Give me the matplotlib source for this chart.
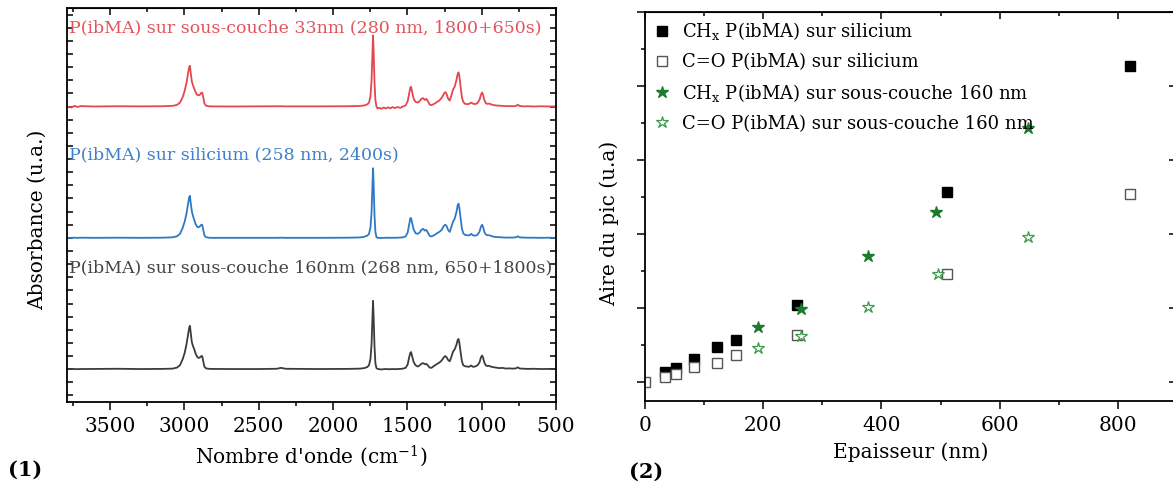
import matplotlib
matplotlib.use("Agg")
import matplotlib.pyplot as plt
from matplotlib.ticker import MultipleLocator, NullFormatter

plt.rcParams['font.family'] = ['DejaVu Serif']
plt.rcParams['mathtext.fontset'] = 'dejavuserif'

# ---- (1) FTIR spectra, absorbance above each baseline (a.u.) ----
wavenumber = [3790, 3760, 3740, 3720, 3700, 3600, 3450, 3300, 3150, 3080,
              3050, 3030, 3012, 2998, 2986, 2976, 2968, 2963, 2957, 2950,
              2942, 2935, 2925, 2915, 2905, 2895, 2886, 2880, 2873, 2866,
              2855, 2830, 2700, 2500, 2380, 2350, 2320, 2100, 1900, 1820,
              1790, 1770, 1758, 1748, 1741, 1735, 1731, 1727, 1721, 1715,
              1708, 1700, 1690, 1675, 1660, 1645, 1630, 1615, 1600, 1585,
              1565, 1548, 1530, 1512, 1498, 1488, 1480, 1475, 1468, 1458,
              1445, 1430, 1418, 1405, 1393, 1383, 1372, 1362, 1350, 1338,
              1320, 1300, 1285, 1270, 1255, 1245, 1236, 1226, 1215, 1205,
              1192, 1182, 1170, 1162, 1156, 1150, 1142, 1133, 1124, 1112,
              1098, 1085, 1070, 1060, 1045, 1030, 1015, 1005, 997, 990,
              982, 972, 962, 952, 940, 925, 905, 880, 860, 840,
              815, 790, 770, 757, 745, 720, 690, 650, 600, 550, 500]

abs_souscouche33 = [0.000, -0.008, 0.005, -0.004, 0.003, 0.000, 0.002, 0.001, 0.002, 0.005,
                    0.012, 0.030, 0.070, 0.120, 0.180, 0.250, 0.300, 0.310, 0.250, 0.190,
                    0.160, 0.140, 0.110, 0.090, 0.085, 0.090, 0.105, 0.105, 0.070, 0.025,
                    0.006, 0.001, 0.000, 0.001, 0.001, 0.002, 0.001, 0.001, 0.002, 0.004,
                    0.008, 0.016, 0.030, 0.080, 0.200, 0.420, 0.540, 0.420, 0.180, 0.050,
                    0.000, -0.015, -0.010, -0.018, -0.008, -0.015, -0.006, -0.014, -0.004, -0.012,
                    -0.004, -0.010, 0.000, 0.008, 0.040, 0.100, 0.145, 0.150, 0.110, 0.060,
                    0.035, 0.030, 0.040, 0.060, 0.063, 0.050, 0.058, 0.040, 0.015, 0.010,
                    0.020, 0.035, 0.045, 0.065, 0.095, 0.110, 0.095, 0.060, 0.045, 0.080,
                    0.130, 0.150, 0.200, 0.245, 0.260, 0.230, 0.150, 0.070, 0.035, 0.020,
                    0.018, 0.020, 0.030, 0.022, 0.018, 0.025, 0.050, 0.090, 0.107, 0.085,
                    0.050, 0.025, 0.020, 0.022, 0.018, 0.012, 0.008, 0.006, 0.004, 0.003,
                    0.003, 0.002, 0.004, 0.014, 0.004, 0.001, 0.002, 0.000, 0.002, 0.000, 0.001]

abs_silicium = [0.000, 0.000, 0.001, 0.000, 0.001, 0.000, 0.001, 0.000, 0.001, 0.004,
                0.012, 0.030, 0.075, 0.125, 0.185, 0.255, 0.310, 0.320, 0.260, 0.200,
                0.165, 0.140, 0.105, 0.085, 0.080, 0.088, 0.100, 0.098, 0.060, 0.020,
                0.005, 0.000, 0.000, 0.000, 0.000, 0.001, 0.000, 0.000, 0.001, 0.003,
                0.008, 0.016, 0.030, 0.080, 0.195, 0.410, 0.530, 0.410, 0.170, 0.045,
                0.005, 0.000, 0.000, -0.002, 0.000, 0.000, 0.001, 0.000, 0.001, 0.000,
                0.001, 0.002, 0.004, 0.010, 0.040, 0.100, 0.150, 0.150, 0.115, 0.065,
                0.035, 0.030, 0.040, 0.062, 0.068, 0.055, 0.060, 0.040, 0.015, 0.010,
                0.020, 0.035, 0.045, 0.060, 0.090, 0.100, 0.090, 0.060, 0.045, 0.080,
                0.125, 0.145, 0.195, 0.245, 0.260, 0.225, 0.150, 0.070, 0.035, 0.022,
                0.020, 0.018, 0.030, 0.020, 0.016, 0.022, 0.045, 0.085, 0.100, 0.080,
                0.045, 0.025, 0.020, 0.020, 0.016, 0.010, 0.006, 0.005, 0.003, 0.002,
                0.002, 0.002, 0.004, 0.012, 0.004, 0.002, 0.001, 0.001, 0.000, 0.001, 0.000]

abs_souscouche160 = [0.000, 0.002, 0.001, 0.000, 0.001, 0.002, 0.003, 0.001, 0.002, 0.004,
                     0.012, 0.030, 0.075, 0.125, 0.190, 0.260, 0.315, 0.330, 0.270, 0.205,
                     0.175, 0.155, 0.120, 0.095, 0.085, 0.090, 0.100, 0.098, 0.060, 0.020,
                     0.006, 0.002, 0.001, 0.001, 0.003, 0.010, 0.003, 0.001, 0.002, 0.004,
                     0.008, 0.016, 0.030, 0.080, 0.190, 0.400, 0.520, 0.400, 0.170, 0.045,
                     0.008, 0.002, 0.000, -0.002, 0.000, 0.001, 0.000, 0.000, 0.001, 0.000,
                     0.001, 0.002, 0.004, 0.010, 0.035, 0.090, 0.125, 0.130, 0.100, 0.055,
                     0.030, 0.020, 0.028, 0.042, 0.046, 0.038, 0.040, 0.028, 0.012, 0.010,
                     0.025, 0.040, 0.050, 0.065, 0.090, 0.100, 0.090, 0.070, 0.060, 0.090,
                     0.135, 0.150, 0.185, 0.220, 0.230, 0.200, 0.130, 0.060, 0.030, 0.022,
                     0.020, 0.018, 0.028, 0.018, 0.020, 0.028, 0.050, 0.090, 0.104, 0.085,
                     0.050, 0.028, 0.024, 0.026, 0.020, 0.016, 0.012, 0.008, 0.010, 0.005,
                     0.006, 0.004, 0.006, 0.014, 0.005, 0.004, 0.002, 0.003, 0.001, 0.002, 0.000]

spectra_labels = ["P(ibMA) sur sous-couche 33nm (280 nm, 1800+650s)",
                  "P(ibMA) sur silicium (258 nm, 2400s)",
                  "P(ibMA) sur sous-couche 160nm (268 nm, 650+1800s)"]

# ---- (2) peak area vs thickness ----
ep_chx_si = [33, 53, 83, 121, 154, 257, 511, 820]
aire_chx_si = [0.27, 0.40, 0.64, 0.95, 1.14, 2.08, 5.14, 8.55]
ep_co_si = [0, 33, 53, 83, 121, 154, 257, 511, 820]
aire_co_si = [0.00, 0.16, 0.22, 0.41, 0.52, 0.73, 1.27, 2.92, 5.08]
ep_chx_sc = [192, 264, 377, 493, 648]
aire_chx_sc = [1.49, 1.97, 3.41, 4.59, 6.86]
ep_co_sc = [192, 264, 377, 495, 648]
aire_co_sc = [0.93, 1.25, 2.04, 2.92, 3.92]

W, H = 1173, 490
fig = plt.figure(figsize=(W / 100, H / 100), dpi=100)

#left panel
ax1 = fig.add_axes([67 / W, 1 - 402 / H, (556 - 67) / W, (402 - 8) / H])
spec = [(abs_souscouche33, 2.0, '#e4474f', '#e2545c', 2.60),
        (abs_silicium, 1.0, '#2f78c8', '#3d80cc', 1.633),
        (abs_souscouche160, 0.0, '#3c3c3c', '#444444', 0.772)]
for (vals, off, col, tcol, ty), lab in zip(spec, spectra_labels):
    ax1.plot(wavenumber, [v + off for v in vals], color=col, lw=1.3)
    ax1.text(3776, ty, lab, color=tcol, fontsize=12.5, va='center', ha='left')

ax1.set_xlim(3790, 500)
ax1.set_ylim(-0.25, 2.75)
ax1.xaxis.set_major_locator(MultipleLocator(500))
ax1.xaxis.set_minor_locator(MultipleLocator(250))
ax1.yaxis.set_major_locator(MultipleLocator(0.1))
ax1.yaxis.set_major_formatter(NullFormatter())
ax1.tick_params(axis='x', which='major', direction='out', length=6, width=1.1,
                labelsize=14.5, pad=5)
ax1.tick_params(axis='x', which='minor', direction='out', length=3, width=1.1)
ax1.tick_params(axis='y', which='both', direction='in', length=4.5, width=1.1,
                left=True, right=True)
top1 = ax1.secondary_xaxis('top')
top1.xaxis.set_major_locator(MultipleLocator(500))
top1.xaxis.set_minor_locator(MultipleLocator(250))
top1.tick_params(which='major', direction='in', length=5, width=1.1, labeltop=False)
top1.tick_params(which='minor', direction='in', length=3, width=1.1)
ax1.set_xlabel("Nombre d'onde (cm$^{-1}$)", fontsize=14.5, labelpad=5)
for s in ax1.spines.values():
    s.set_linewidth(1.3)

#right panel
ax2 = fig.add_axes([645 / W, 1 - 401 / H, (1177 - 645) / W, (401 - 12) / H])
ax2.plot(ep_chx_si, aire_chx_si, 's', color='black', ms=6.5,
         label=r"CH$_{\mathregular{x}}$ P(ibMA) sur silicium")
ax2.plot(ep_co_si, aire_co_si, 's', mfc='white', mec='#555555', mew=1.0, ms=6.5,
         label="C=O P(ibMA) sur silicium")
ax2.plot(ep_chx_sc, aire_chx_sc, '*', color='#1c7a2e', ms=9,
         label=r"CH$_{\mathregular{x}}$ P(ibMA) sur sous-couche 160 nm")
ax2.plot(ep_co_sc, aire_co_sc, '*', mfc='white', mec='#3c9a4a', mew=0.9, ms=9,
         label="C=O P(ibMA) sur sous-couche 160 nm")
ax2.set_xlim(0, 900)
ax2.set_ylim(-0.5, 10)
ax2.xaxis.set_major_locator(MultipleLocator(200))
ax2.xaxis.set_minor_locator(MultipleLocator(100))
ax2.yaxis.set_major_locator(MultipleLocator(2))
ax2.yaxis.set_minor_locator(MultipleLocator(1))
ax2.yaxis.set_major_formatter(NullFormatter())
ax2.tick_params(axis='x', which='major', direction='out', length=6, width=1.1,
                labelsize=14.5, pad=5)
ax2.tick_params(axis='x', which='minor', direction='out', length=3, width=1.1)
ax2.tick_params(axis='y', which='major', direction='out', length=6, width=1.1)
ax2.tick_params(axis='y', which='minor', direction='out', length=3, width=1.1)
top2 = ax2.secondary_xaxis('top')
top2.xaxis.set_major_locator(MultipleLocator(200))
top2.xaxis.set_minor_locator(MultipleLocator(100))
top2.tick_params(which='major', direction='in', length=5, width=1.1, labeltop=False)
top2.tick_params(which='minor', direction='in', length=3, width=1.1)
right2 = ax2.secondary_yaxis('right')
right2.yaxis.set_major_locator(MultipleLocator(2))
right2.yaxis.set_minor_locator(MultipleLocator(1))
right2.tick_params(which='major', direction='in', length=6, width=1.1, labelright=False)
right2.tick_params(which='minor', direction='in', length=3, width=1.1)
ax2.set_xlabel("Epaisseur (nm)", fontsize=14.5, labelpad=5)
for s in ax2.spines.values():
    s.set_linewidth(1.3)
ax2.legend(loc='upper left', bbox_to_anchor=(0.0, 1.0), frameon=False,
           fontsize=13, handlelength=1.0, handletextpad=0.6, labelspacing=0.6,
           borderaxespad=0.25, borderpad=0.2)

fig.text(37 / W, 1 - 220 / H, "Absorbance (u.a.)", rotation=90, fontsize=14.5,
         ha='center', va='center')
fig.text(609 / W, 1 - 223 / H, "Aire du pic (u.a)", rotation=90, fontsize=14.5,
         ha='center', va='center')
fig.text(8 / W, 1 - 470 / H, "(1)", fontsize=15, fontweight='bold', va='center')
fig.text(629 / W, 1 - 472 / H, "(2)", fontsize=15, fontweight='bold', va='center')

fig.savefig("out.png", dpi=100)
